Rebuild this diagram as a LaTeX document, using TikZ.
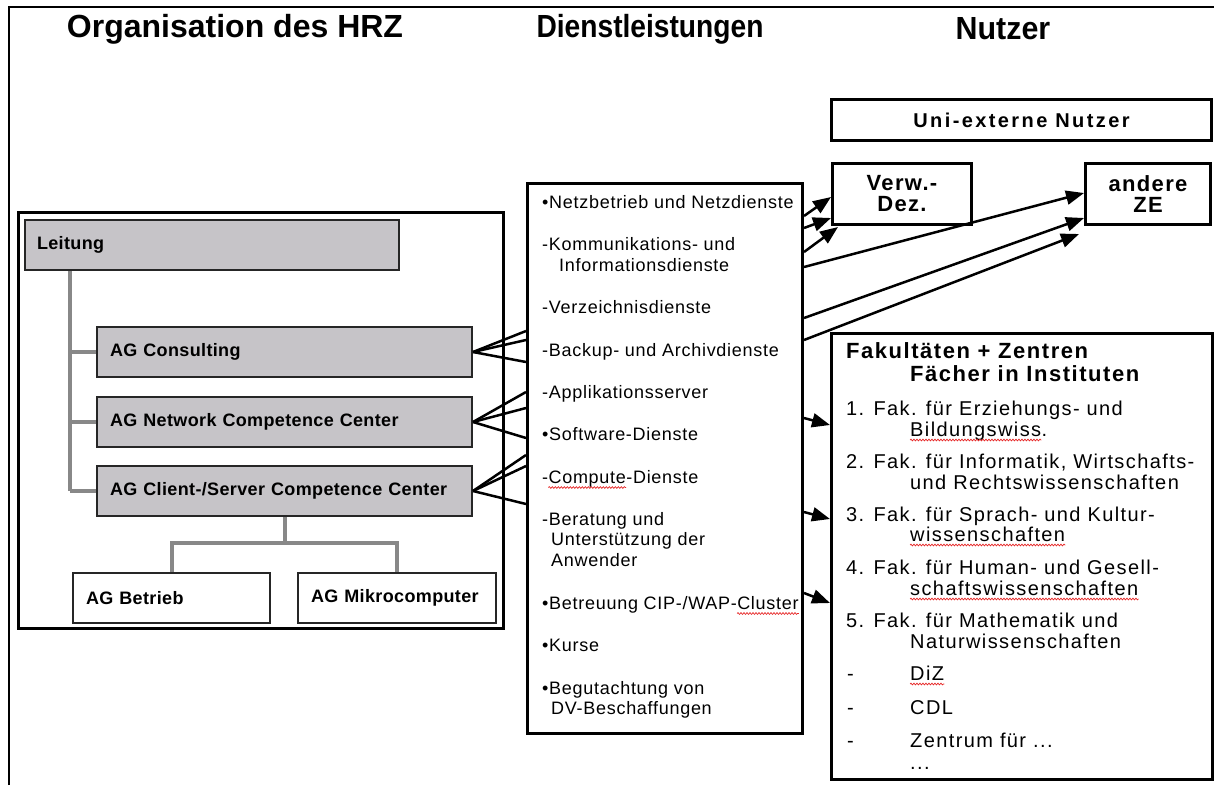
\documentclass[tikz,border=0pt]{standalone}
\usepackage{fontspec}
\setmainfont{Liberation Sans}
\newfontfamily\svfont{Liberation Sans}[LetterSpace=4]
\newfontfamily\boxfont{Liberation Sans}[LetterSpace=2]
\newfontfamily\fkfont{Liberation Sans}[LetterSpace=7]
\newfontfamily\userfont{Liberation Sans}[LetterSpace=6]
\newfontfamily\unifont{Liberation Sans}[LetterSpace=12]
\usetikzlibrary{arrows.meta,calc,decorations.pathmorphing}

\definecolor{boxgray}{RGB}{198,196,200}
\definecolor{treegray}{RGB}{136,136,136}
\definecolor{spellred}{RGB}{230,40,40}

\tikzset{
  frameline/.style={line width=2pt},
  container/.style={draw, line width=3pt, anchor=north west, inner sep=0pt},
  gbox/.style={draw=black!85, line width=2pt, fill=boxgray, anchor=north west,
    minimum height=50pt, inner xsep=13pt, align=left,
    font=\boxfont\bfseries\fontsize{18}{21}\selectfont},
  wbox/.style={gbox, fill=white},
  ubox/.style={draw, line width=3pt, anchor=north west, align=center, inner sep=0pt,
    font=\userfont\bfseries\fontsize{22}{21}\selectfont},
  title/.style={font=\bfseries\fontsize{32}{38}\selectfont, transform shape},
  svtext/.style={anchor=base west, inner sep=0pt, font=\svfont\fontsize{18}{21}\selectfont},
  fktext/.style={anchor=base west, inner sep=0pt, font=\fkfont\fontsize{20}{21}\selectfont},
  fkhead/.style={anchor=base west, inner sep=0pt, font=\fkfont\bfseries\fontsize{22}{23}\selectfont},
  tree/.style={draw=treegray, line width=4pt},
  link/.style={line width=2.5pt},
  arr/.style={line width=2.5pt, -{Triangle[length=18pt,width=14pt]}},
  spell/.style={draw=spellred, line width=0.7pt,
    decorate, decoration={snake, segment length=3pt, amplitude=0.9pt}},
}

\begin{document}
\begin{tikzpicture}[x=1pt, y=-1pt]
\useasboundingbox (0,0) rectangle (1214,785);

% page frame
\draw[frameline] (9,785) -- (9,7) -- (1214,7);

% column headings
\node[title] (h1) at (235,29) {Organisation des HRZ};
\node[title, xscale=0.88] (h2) at (650,29) {Dienstleistungen};
\node[title, xscale=0.95] (h3) at (1003,29) {Nutzer};

% ---------- organisation of the HRZ ----------
\node[container, minimum width=485pt, minimum height=416pt] (org) at (17,211) {};
\node[gbox, minimum width=374pt, text width=350pt, inner xsep=12pt] (lei) at (24,219) {Leitung};
\node[gbox, minimum width=375pt, text width=349pt] (con) at (96,326) {AG Consulting};
\node[gbox, minimum width=375pt, text width=349pt] (net) at (96,396) {AG Network Competence Center};
\node[gbox, minimum width=375pt, text width=349pt] (cli) at (96,465) {AG Client-/Server Competence Center};
\node[wbox, minimum width=197pt, text width=171pt] (bet) at (72,572) {AG Betrieb};
\node[wbox, minimum width=198pt, text width=172pt] (mik) at (297,572) {AG Mikrocomputer};

\coordinate (trunk) at (70,0);
\draw[tree] (lei.south -| trunk) -- (cli.west -| trunk);
\draw[tree] (con.west -| trunk) -- (con.west);
\draw[tree] (net.west -| trunk) -- (net.west);
\draw[tree] (cli.west -| trunk) -- (cli.west);
\coordinate (fork) at (cli.south |- 0,543);
\draw[tree] (cli.south) -- (fork);
\draw[tree] (bet.north) |- (fork) -| (mik.north);

% ---------- services ----------
\node[container, minimum width=275pt, minimum height=550pt] (svc) at (526,182) {};

\foreach \n/\x/\y/\t in {
  s1/542/208.5/{•Netzbetrieb und Netzdienste},
  s2a/542/250.5/{-Kommunikations- und},
  s2b/559/271.5/{Informationsdienste},
  s3/542/313.5/{-Verzeichnisdienste},
  s4/542/356.5/{-Backup- und Archivdienste},
  s5/542/398.5/{-Applikationsserver},
  s6/542/440.5/{•Software-Dienste},
  s8a/542/525.5/{-Beratung und},
  s8b/551/545.5/{Unterstützung der},
  s8c/551/566.5/{Anwender},
  s10/542/651.5/{•Kurse},
  s11a/542/694.5/{•Begutachtung von},
  s11b/551/714.5/{DV-Beschaffungen}}
  \node[svtext] (\n) at (\x,\y) {\t};

\node[svtext] (s7a) at (542,483.5) {-};
\node[svtext] (s7b) at (s7a.base east) {Compute};
\node[svtext] (s7c) at (s7b.base east) {-Dienste};
\node[svtext] (s9a) at (542,609.5) {•Betreuung CIP-/WAP-};
\node[svtext] (s9b) at (s9a.base east) {Cluster};

% ---------- users ----------
\node[ubox, minimum width=380pt, minimum height=41pt,
      font=\unifont\bfseries\fontsize{20}{21}\selectfont] (uni) at (830,98) {Uni-externe Nutzer};
\node[ubox, minimum width=139pt, minimum height=61pt] (verw) at (831,162) {Verw.-\\Dez.};
\node[ubox, minimum width=125pt, minimum height=61pt] (ze) at (1084,162) {andere\\ZE};
\node[container, minimum width=381pt, minimum height=446pt] (fak) at (830,332) {};

\node[fkhead] (fh1) at (846,358) {Fakultäten + Zentren};
\node[fkhead] (fh2) at (910,381) {Fächer in Instituten};

\foreach \n/\x/\y/\t in {
  f1a/846/415/{1. Fak. für Erziehungs- und},
  f2a/846/468/{2. Fak. für Informatik, Wirtschafts-},
  f2b/910/489/{und Rechtswissenschaften},
  f3a/846/521/{3. Fak. für Sprach- und Kultur-},
  f4a/846/574/{4. Fak. für Human- und Gesell-},
  f5a/846/627/{5. Fak. für Mathematik und},
  f5b/910/648/{Naturwissenschaften},
  d1/847/680/{-},
  d2/847/714/{-},
  z2/910/714/{CDL},
  d3/847/747/{-},
  z3/910/747/{Zentrum für ...},
  z4/910/769/{...}}
  \node[fktext] (\n) at (\x,\y) {\t};

\node[fktext] (f1b) at (910,436) {Bildungswiss};
\node[fktext] (f1c) at (f1b.base east) {.};
\node[fktext] (f3b) at (910,541) {wissenschaften};
\node[fktext] (f4b) at (910,595) {schaftswissenschaften};
\node[fktext] (z1) at (910,680) {DiZ};

% spell-check underlines
\foreach \w in {s7b, s9b, f1b, f3b, f4b, z1}
  \draw[spell] ($(\w.base west)+(0,4)$) -- ($(\w.base east)+(0,4)$);

% ---------- working groups -> services ----------
\foreach \y in {331,340,362} \draw[link] (con.east) -- (svc.west |- 0,\y);
\foreach \y in {392,408,438} \draw[link] (net.east) -- (svc.west |- 0,\y);
\foreach \y in {455,466,504} \draw[link] (cli.east) -- (svc.west |- 0,\y);

% ---------- services -> users ----------
\draw[arr] (svc.east |- 0,216) -- (verw.west |- 0,197);
\draw[arr] (svc.east |- 0,228) -- (verw.west |- 0,218);
\draw[arr] (svc.east |- 0,252) -- ($(verw.south west)+(7,1)$);
\draw[arr] (svc.east |- 0,267) -- (ze.west |- 0,193);
\draw[arr] (svc.east |- 0,318) -- (ze.west |- 0,218);
\draw[arr] (svc.east |- 0,340) -- ($(ze.south west)+(-5,8)$);
\draw[arr] (svc.east |- 0,418) -- (fak.west |- 0,425);
\draw[arr] (svc.east |- 0,512) -- (fak.west |- 0,519);
\draw[arr] (svc.east |- 0,593) -- (fak.west |- 0,603);
\end{tikzpicture}
\end{document}
